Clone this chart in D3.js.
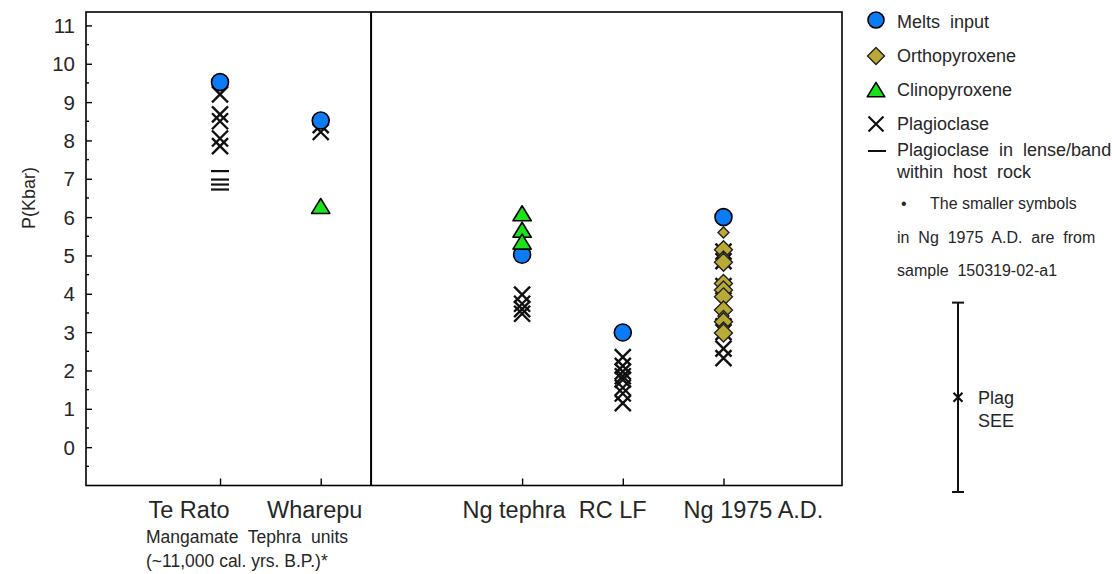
<!DOCTYPE html>
<html>
<head>
<meta charset="utf-8">
<script src="https://cdn.jsdelivr.net/npm/d3@7"></script>
<style>
  html, body { margin: 0; padding: 0; background: #fff; }
  svg { display: block; font-family: "Liberation Sans", Arial, sans-serif; }
  text { white-space: pre; }
</style>
</head>
<body>
<svg id="chart" width="1112" height="574"></svg>
<script>
// Sample groups along the x axis
const categories = ["Te Rato", "Wharepu", "Ng tephra", "RC LF", "Ng 1975 A.D."];
const categoryPos = [1, 2, 4, 5, 6];

// Pressure estimates (kbar) per group
const meltsInput = [9.52, 8.52, 5.02, 2.99, 6.0];

const opxNg1975 = [5.6, 5.15, 4.97, 4.82, 4.27, 4.1, 3.92, 3.58, 3.42, 3.27, 3.12, 2.98];
const opxNg1975Small = [true, false, true, false, false, false, false, false, true, false, true, false];

const cpxWharepu = [6.28];
const cpxNgTephra = [6.09, 5.66, 5.35];

const plagTeRato = [9.2, 8.68, 8.5, 8.05, 7.85];
const plagWharepu = [8.4, 8.22];
const plagNgTephra = [3.98, 3.74, 3.6, 3.48];
const plagRCLF = [2.35, 2.12, 1.97, 1.85, 1.76, 1.55, 1.4, 1.15];
const plagNg1975 = [5.1, 4.85, 4.2, 3.15, 3.0, 2.57, 2.32];

const plagBandTeRato = [7.2, 6.98, 6.85, 6.72];

const yTicks = [0, 1, 2, 3, 4, 5, 6, 7, 8, 9, 10, 11];

// Plagioclase standard error of estimate
const plagSEE = { center: 1.3, err: 2.47 };

const colors = { melts: "#0b7cf6", opx: "#b9aa36", cpx: "#19e419", ink: "#111", text: "#262626" };

const svg = d3.select("#chart");
const plotL = 86, plotR = 842, plotT = 12, plotB = 485.5;

const x = d3.scaleLinear().domain([-0.331, 7.177]).range([plotL, plotR]);
const y = d3.scaleLinear().domain([-1.0, 11.35]).range([plotB, plotT]);

// frame
svg.append("rect")
  .attr("x", plotL).attr("y", plotT)
  .attr("width", plotR - plotL).attr("height", plotB - plotT)
  .attr("fill", "none").attr("stroke", "#000").attr("stroke-width", 1.6);

// divider between tephra groups
svg.append("line")
  .attr("x1", x(2.5)).attr("x2", x(2.5))
  .attr("y1", plotT).attr("y2", plotB)
  .attr("stroke", "#000").attr("stroke-width", 2);

// y axis: major ticks inward with labels, minor ticks at halves
const yAxis = d3.axisRight(y).tickValues(yTicks).tickSize(6).tickFormat("");
const gy = svg.append("g").attr("transform", `translate(${plotL},0)`).call(yAxis);
gy.select(".domain").remove();
gy.selectAll("line").attr("stroke", "#000").attr("stroke-width", 1.4);

const minor = d3.range(-0.5, 11.0, 1);
svg.append("g").selectAll("line").data(minor).join("line")
  .attr("x1", plotL).attr("x2", plotL + 3)
  .attr("y1", d => y(d)).attr("y2", d => y(d))
  .attr("stroke", "#000").attr("stroke-width", 1.4);

svg.append("g").selectAll("text").data(yTicks).join("text")
  .attr("x", 75).attr("y", d => y(d))
  .attr("text-anchor", "end").attr("dominant-baseline", "central")
  .attr("font-size", 20.5).attr("fill", colors.text)
  .text(d => d);

svg.append("text")
  .attr("transform", `translate(29,198) rotate(-90)`)
  .attr("text-anchor", "middle").attr("dominant-baseline", "central")
  .attr("font-size", 18).attr("fill", colors.text)
  .text("P(Kbar)");

// x axis: category ticks inward
const xAxis = d3.axisTop(x).tickValues(categoryPos).tickSize(7).tickFormat("");
const gx = svg.append("g").attr("transform", `translate(0,${plotB})`).call(xAxis);
gx.select(".domain").remove();
gx.selectAll("line").attr("stroke", "#000").attr("stroke-width", 1.4);

const labelShift = [-31, -6, -8, -10, 30];
svg.append("g").selectAll("text").data(categories).join("text")
  .attr("x", (d, i) => x(categoryPos[i]) + labelShift[i])
  .attr("y", 510)
  .attr("text-anchor", "middle").attr("dominant-baseline", "central")
  .attr("font-size", 23.5).attr("fill", colors.text)
  .text(d => d);

svg.append("text").attr("x", 146).attr("y", 537)
  .attr("font-size", 17.5).attr("fill", colors.text).attr("dominant-baseline", "central")
  .text("Mangamate  Tephra  units");
svg.append("text").attr("x", 146).attr("y", 561)
  .attr("font-size", 17.5).attr("fill", colors.text).attr("dominant-baseline", "central")
  .text("(~11,000 cal. yrs. B.P.)*");

// symbol helpers
function drawX(g, cx, cy, h, w) {
  g.append("path")
    .attr("d", `M${cx - h},${cy - h}L${cx + h},${cy + h}M${cx - h},${cy + h}L${cx + h},${cy - h}`)
    .attr("stroke", colors.ink).attr("stroke-width", w).attr("fill", "none");
}
function drawDiamond(g, cx, cy, s) {
  g.append("path")
    .attr("d", `M${cx},${cy - s}L${cx + s},${cy}L${cx},${cy + s}L${cx - s},${cy}Z`)
    .attr("fill", colors.opx).attr("stroke", "#222").attr("stroke-width", 1.4);
}
function drawTriangle(g, cx, cy, s) {
  g.append("path")
    .attr("d", `M${cx},${cy - s * 0.95}L${cx + s * 1.1},${cy + s * 0.85}L${cx - s * 1.1},${cy + s * 0.85}Z`)
    .attr("fill", colors.cpx).attr("stroke", "#000").attr("stroke-width", 1.6)
    .attr("stroke-linejoin", "round");
}
function drawCircle(g, cx, cy, r) {
  g.append("circle").attr("cx", cx).attr("cy", cy).attr("r", r)
    .attr("fill", colors.melts).attr("stroke", "#000").attr("stroke-width", 1.6);
}

const marks = svg.append("g");

// plagioclase in lense/band
plagBandTeRato.forEach(v => {
  marks.append("line")
    .attr("x1", x(1) - 9).attr("x2", x(1) + 9)
    .attr("y1", y(v)).attr("y2", y(v))
    .attr("stroke", colors.ink).attr("stroke-width", 2.2);
});

// plagioclase
[[1, plagTeRato], [2, plagWharepu], [4, plagNgTephra], [5, plagRCLF], [6, plagNg1975]]
  .forEach(([pos, vals]) => vals.forEach(v => drawX(marks, x(pos), y(v), 8, 2.4)));

// melts input
meltsInput.forEach((v, i) => drawCircle(marks, x(categoryPos[i]), y(v), 8.5));

// orthopyroxene
opxNg1975.forEach((v, i) => drawDiamond(marks, x(6), y(v), opxNg1975Small[i] ? 5.5 : 9));

// clinopyroxene
cpxWharepu.forEach(v => drawTriangle(marks, x(2), y(v), 8.3));
cpxNgTephra.forEach(v => drawTriangle(marks, x(4), y(v), 8.3));

// legend
const lg = svg.append("g");
const lx = 876, tx = 897;
drawCircle(lg, lx, 20, 8);
drawDiamond(lg, lx, 56, 8.5);
drawTriangle(lg, lx, 90, 8);
drawX(lg, lx, 124, 7.5, 2.2);
lg.append("line").attr("x1", lx - 8).attr("x2", lx + 10).attr("y1", 151).attr("y2", 151)
  .attr("stroke", colors.ink).attr("stroke-width", 2);

const legendRows = [
  ["Melts  input", tx, 22, 18],
  ["Orthopyroxene", tx, 56, 18],
  ["Clinopyroxene", tx, 90, 18],
  ["Plagioclase", tx, 124, 18],
  ["Plagioclase  in  lense/band", tx, 150, 18],
  ["within  host  rock", tx, 172, 18],
  ["•", 901, 203, 16],
  ["The smaller symbols", 930, 203, 16],
  ["in  Ng  1975  A.D.  are  from", tx, 237, 16],
  ["sample  150319-02-a1", tx, 270, 16]
];
lg.selectAll("text.lt").data(legendRows).join("text")
  .attr("class", "lt")
  .attr("x", d => d[1]).attr("y", d => d[2])
  .attr("dominant-baseline", "central")
  .attr("font-size", d => d[3]).attr("fill", colors.text)
  .text(d => d[0]);

// SEE bar
const seeX = 958;
const sg = svg.append("g").attr("stroke", colors.ink).attr("stroke-width", 2);
sg.append("line").attr("x1", seeX).attr("x2", seeX)
  .attr("y1", y(plagSEE.center + plagSEE.err)).attr("y2", y(plagSEE.center - plagSEE.err));
[plagSEE.center + plagSEE.err, plagSEE.center - plagSEE.err].forEach(v => {
  sg.append("line").attr("x1", seeX - 6).attr("x2", seeX + 6).attr("y1", y(v)).attr("y2", y(v));
});
drawX(svg, seeX, y(plagSEE.center), 4.5, 2.2);
svg.append("text").attr("x", 978).attr("y", 398).attr("dominant-baseline", "central")
  .attr("font-size", 18).attr("fill", colors.text).text("Plag");
svg.append("text").attr("x", 978).attr("y", 421).attr("dominant-baseline", "central")
  .attr("font-size", 18).attr("fill", colors.text).text("SEE");
</script>
</body>
</html>
